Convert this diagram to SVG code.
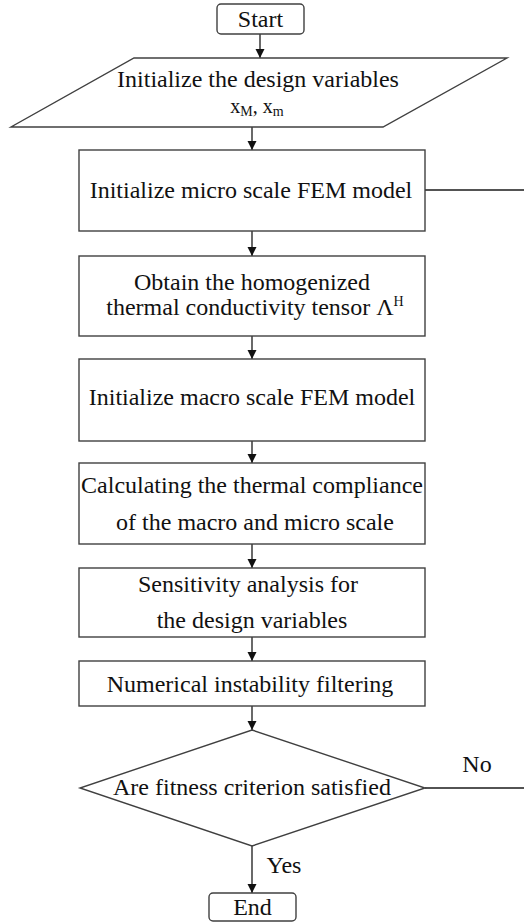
<svg xmlns="http://www.w3.org/2000/svg" width="524" height="922" viewBox="0 0 524 922">
  <style>
    .shape { fill: #fff; stroke: #404040; stroke-width: 1.4; }
    .label { font-family: "Liberation Serif", "Times New Roman", serif; font-size: 24px; fill: #111; text-anchor: middle; }
    .edge { fill: none; stroke: #1a1a1a; stroke-width: 1.3; }
  </style>
  <defs>
    <marker id="arrow" markerWidth="10" markerHeight="10" refX="9" refY="5" orient="auto" markerUnits="userSpaceOnUse">
      <path d="M0,0.5 L9,5 L0,9.5 Z" fill="#111"/>
    </marker>
  </defs>
  <rect width="524" height="922" fill="#fff"/>

  <g id="connectors">
    <line class="edge" x1="260" y1="34" x2="260" y2="58" marker-end="url(#arrow)"/>
    <line class="edge" x1="252" y1="127" x2="252" y2="150" marker-end="url(#arrow)"/>
    <line class="edge" x1="252" y1="231" x2="252" y2="256" marker-end="url(#arrow)"/>
    <line class="edge" x1="252" y1="336" x2="252" y2="359" marker-end="url(#arrow)"/>
    <line class="edge" x1="252" y1="441" x2="252" y2="463" marker-end="url(#arrow)"/>
    <line class="edge" x1="252" y1="544" x2="252" y2="568" marker-end="url(#arrow)"/>
    <line class="edge" x1="252" y1="637" x2="252" y2="661" marker-end="url(#arrow)"/>
    <line class="edge" x1="252" y1="706" x2="252" y2="730" marker-end="url(#arrow)"/>
    <line class="edge" x1="252" y1="846" x2="252" y2="893" marker-end="url(#arrow)"/>
    <line class="edge" x1="425" y1="190" x2="524" y2="190"/>
    <line class="edge" x1="425" y1="788" x2="524" y2="788"/>
    <rect x="458" y="752" width="38" height="26" fill="#fff"/>
    <text class="label" x="477" y="772">No</text>
    <rect x="261" y="852" width="46" height="26" fill="#fff"/>
    <text class="label" x="284" y="873">Yes</text>
  </g>

  <g id="start">
    <rect class="shape" x="217" y="4" width="87" height="30" rx="4"/>
    <text class="label" x="260.5" y="27">Start</text>
  </g>

  <g id="init-vars">
    <polygon class="shape" points="134,58 507,58 383,127 11,127"/>
    <text class="label" x="258" y="87">Initialize the design variables</text>
    <text class="label" x="257" y="113" style="font-size:20px">x<tspan dy="3" style="font-size:14px">M</tspan><tspan dy="-3">, x</tspan><tspan dy="3" style="font-size:14px">m</tspan></text>
  </g>

  <g id="micro-fem">
    <rect class="shape" x="79" y="150" width="346" height="81"/>
    <text class="label" x="251" y="198">Initialize micro scale FEM model</text>
  </g>

  <g id="homogenized">
    <rect class="shape" x="79" y="256" width="346" height="80"/>
    <text class="label" x="252" y="290">Obtain the homogenized</text>
    <text class="label" x="255" y="315">thermal conductivity tensor Λ<tspan dy="-9" style="font-size:14px">H</tspan></text>
  </g>

  <g id="macro-fem">
    <rect class="shape" x="79" y="359" width="346" height="82"/>
    <text class="label" x="252" y="405">Initialize macro scale FEM model</text>
  </g>

  <g id="compliance">
    <rect class="shape" x="79" y="463" width="346" height="81"/>
    <text class="label" x="252" y="493">Calculating the thermal compliance</text>
    <text class="label" x="255" y="530">of the macro and micro scale</text>
  </g>

  <g id="sensitivity">
    <rect class="shape" x="79" y="568" width="346" height="69"/>
    <text class="label" x="248" y="592">Sensitivity analysis for</text>
    <text class="label" x="252" y="628">the design variables</text>
  </g>

  <g id="filtering">
    <rect class="shape" x="79" y="661" width="346" height="45"/>
    <text class="label" x="250" y="692">Numerical instability filtering</text>
  </g>

  <g id="criterion">
    <polygon class="shape" points="252,730 425,788 252,846 80,788"/>
    <text class="label" x="252" y="795">Are fitness criterion satisfied</text>
  </g>

  <g id="end">
    <rect class="shape" x="209" y="893" width="87" height="28" rx="4"/>
    <text class="label" x="252.5" y="915">End</text>
  </g>
</svg>
